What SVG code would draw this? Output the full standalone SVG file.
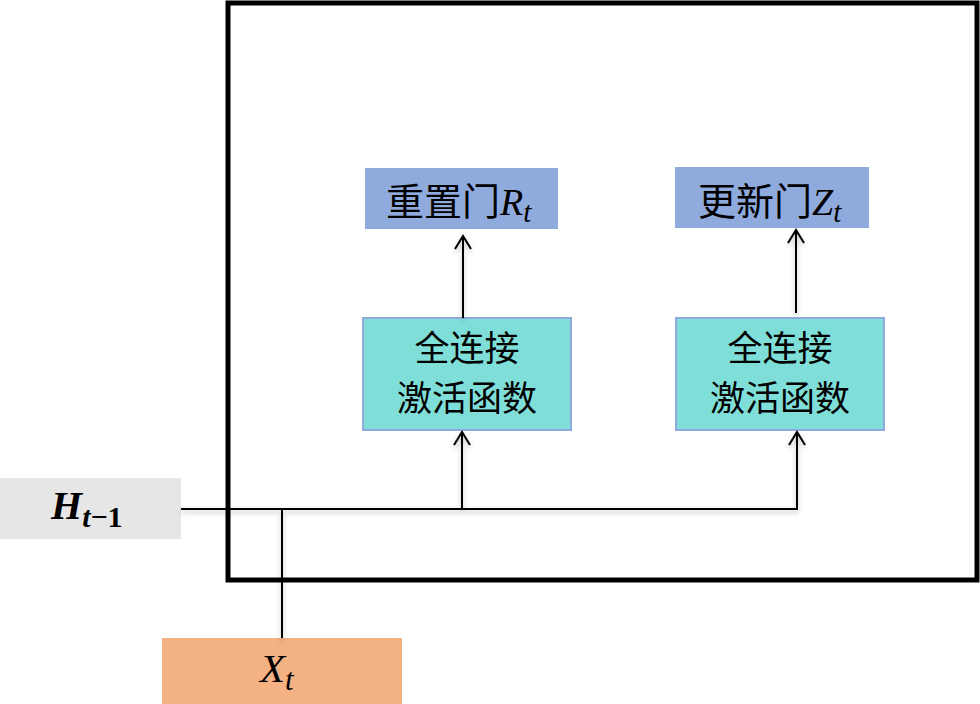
<svg xmlns="http://www.w3.org/2000/svg" width="980" height="704" viewBox="0 0 980 704">
  <defs>
    <style>
      .gate { fill: #8FAADC; }
      .fc { fill: #7FDFD8; stroke: #8FAADC; stroke-width: 2; }
      .cn { font-family: "Noto Sans CJK SC", "Noto Sans", sans-serif; font-size: 38px; fill: #000; }
      .fct { font-family: "Noto Sans CJK SC", "Noto Sans", sans-serif; font-size: 35px; fill: #000; text-anchor: middle; }
      .math { font-family: "Liberation Serif", serif; font-style: italic; fill: #000; }
      .wire { fill: none; stroke: #000; stroke-width: 2; }
    </style>
    <marker id="arrow" viewBox="-15 -10 20 20" refX="0" refY="0" markerWidth="20" markerHeight="20" markerUnits="userSpaceOnUse" orient="auto">
      <path d="M-13,-8 L0,0 L-13,8" fill="none" stroke="#000" stroke-width="2"/>
    </marker>
    <filter id="shadow" x="-20%" y="-20%" width="140%" height="140%">
      <feDropShadow dx="0" dy="3" stdDeviation="2.5" flood-color="#000" flood-opacity="0.25"/>
    </filter>
  </defs>

  <rect id="frame" x="228" y="3" width="749" height="577" fill="none" stroke="#000" stroke-width="5"/>

  <g id="h-prev">
    <rect x="0" y="478" width="181" height="61" fill="#E6E6E6"/>
    <text x="51" y="519" font-family="Liberation Serif, serif" font-style="italic" font-weight="bold" font-size="40">H<tspan font-size="30" dy="8">t</tspan><tspan font-size="30" font-style="normal">−1</tspan></text>
  </g>

  <g id="x-t">
    <rect x="162" y="638" width="240" height="66" fill="#F4B183"/>
    <text x="260" y="682" class="math" font-size="41">X<tspan font-size="31" dy="8">t</tspan></text>
  </g>

  <g id="reset-gate">
    <rect class="gate" x="365" y="168" width="193" height="61"/>
    <text x="386" y="215" class="cn">重置门<tspan class="math" font-size="38">R</tspan><tspan class="math" font-size="29" dy="7">t</tspan></text>
  </g>

  <g id="update-gate">
    <rect class="gate" x="675" y="167" width="194" height="61"/>
    <text x="698" y="215" class="cn">更新门<tspan class="math" font-size="38">Z</tspan><tspan class="math" font-size="29" dy="7">t</tspan></text>
  </g>

  <g id="fc-reset">
    <rect class="fc" x="363" y="318" width="208" height="112"/>
    <text class="fct" x="467" y="361">全连接</text>
    <text class="fct" x="467" y="411">激活函数</text>
  </g>

  <g id="fc-update">
    <rect class="fc" x="676" y="318" width="208" height="112"/>
    <text class="fct" x="780" y="361">全连接</text>
    <text class="fct" x="780" y="411">激活函数</text>
  </g>

  <g id="connectors" filter="url(#shadow)">
    <path class="wire" d="M181,509 H797 V432" marker-end="url(#arrow)"/>
    <path class="wire" d="M462,509 V432" marker-end="url(#arrow)"/>
    <path class="wire" d="M282,638 V509"/>
    <path class="wire" d="M463,318 V236" marker-end="url(#arrow)"/>
    <path class="wire" d="M796,313 V230" marker-end="url(#arrow)"/>
  </g>
</svg>
